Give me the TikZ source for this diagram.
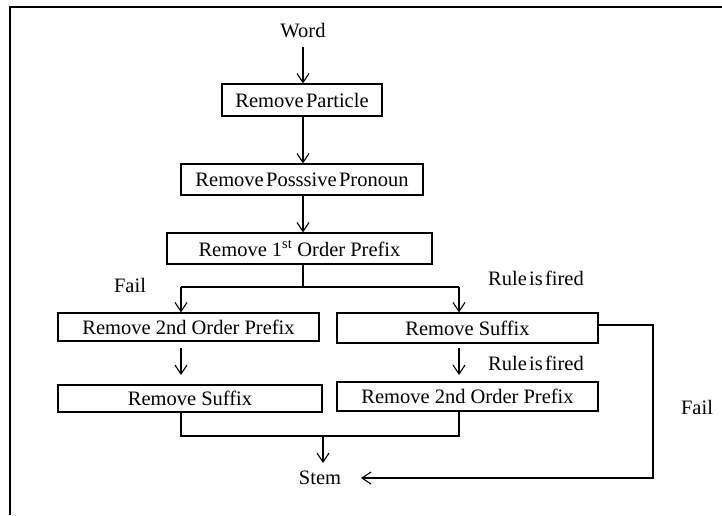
\documentclass[tikz,border=0pt]{standalone}
\usepackage{fontspec}
\setmainfont{Liberation Serif}
\newfontfamily\tightfont{Liberation Serif}[WordSpace=0.45]
\usetikzlibrary{arrows.meta}
\begin{document}
\begin{tikzpicture}[x=1pt,y=-1pt,
  every node/.style={font=\fontsize{20.5}{24}\selectfont, inner sep=0pt},
  boxnode/.style={draw, line width=1.1pt, minimum width=#1, minimum height=30pt},
  tightlbl/.style={font=\fontsize{20.5}{24}\selectfont\tightfont},
  conn/.style={line width=1.1pt},
  arr/.style={line width=1.1pt, -{Straight Barb[length=9pt,width=12pt,line width=1.1pt]}}
  ]
\useasboundingbox (0,0) rectangle (722,515);
% frame
\draw[line width=2.6pt] (10,515) -- (10,7) -- (722,7);

% nodes
\node (word) at (303,31) {Word};
\node[boxnode=160pt, minimum height=32pt, tightlbl] (particle) at (302,100) {Remove Particle};
\node[boxnode=242pt, minimum height=31pt, tightlbl] (pronoun) at (302,179.5) {Remove Posssive Pronoun};
\node[boxnode=265pt, minimum height=31pt] (prefix1) at (299.5,248.5) {Remove 1\textsuperscript{st} Order Prefix};
\node[boxnode=261pt, minimum height=28pt] (prefix2l) at (188.5,327) {Remove 2nd Order Prefix};
\node[boxnode=261pt, minimum height=30pt] (suffixr) at (467.5,328) {Remove Suffix};
\node[boxnode=264pt, minimum height=27pt] (suffixl) at (190,398.5) {Remove Suffix};
\node[boxnode=261pt, minimum height=29pt] (prefix2r) at (467.5,396.5) {Remove 2nd Order Prefix};
\node (stem) at (320,478) {Stem};

% labels
\node at (130,285) {Fail};
\node[tightlbl] at (536,278) {Rule is fired};
\node[tightlbl] at (536,363) {Rule is fired};
\node at (697,407) {Fail};

% helper coordinates
\coordinate (wtop) at (303,47);
\coordinate (split) at (303,287);
\coordinate (splitl) at (181,287);
\coordinate (splitr) at (459,287);
\coordinate (fl1) at (181,348);
\coordinate (fl2) at (181,375);
\coordinate (fr1) at (459,348);
\coordinate (fr2) at (459,375);
\coordinate (jl) at (181,436);
\coordinate (jr) at (459,436);
\coordinate (jm) at (323,436);
\coordinate (jend) at (323,463);
\coordinate (rc1) at (653,325);
\coordinate (rc2) at (653,478);
\coordinate (stemtip) at (361,478);

% connectors
\draw[arr] (wtop) -- (particle.north -| wtop);
\draw[arr] (particle.south -| wtop) -- (pronoun.north -| wtop);
\draw[arr] (pronoun.south -| wtop) -- (prefix1.north -| wtop);
\draw[conn] (prefix1.south -| split) -- (split);
\draw[conn] (splitl) -- (splitr);
\draw[arr] (splitl) -- (prefix2l.north -| splitl);
\draw[arr] (splitr) -- (suffixr.north -| splitr);
\draw[arr] (fl1) -- (fl2);
\draw[arr] (fr1) -- (fr2);
\draw[conn] (suffixl.south -| jl) -- (jl) -- (jr) -- (prefix2r.south -| jr);
\draw[arr] (jm) -- (jend);
\draw[arr] (suffixr.east |- rc1) -- (rc1) -- (rc2) -- (stemtip);
\end{tikzpicture}
\end{document}
